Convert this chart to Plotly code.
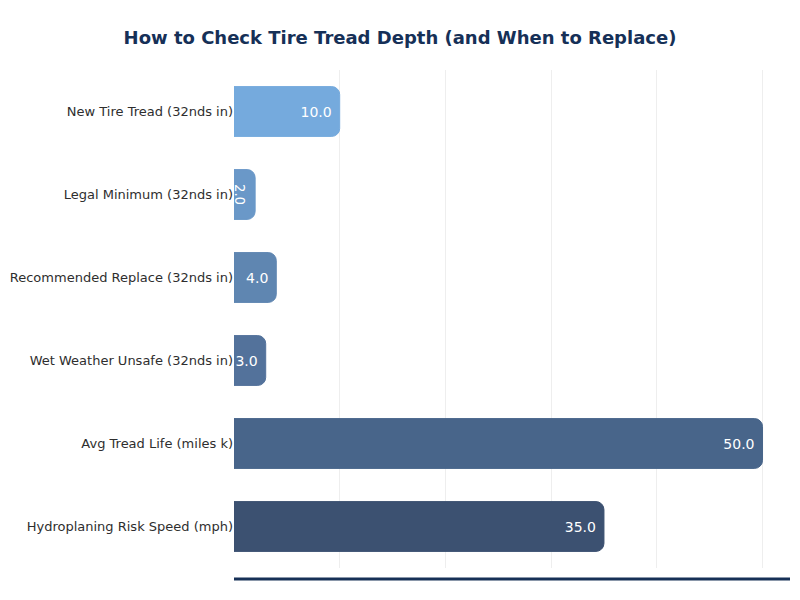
import plotly.graph_objects as go

# tread depth guide data, top to bottom
categories = [
    "New Tire Tread (32nds in)",
    "Legal Minimum (32nds in)",
    "Recommended Replace (32nds in)",
    "Wet Weather Unsafe (32nds in)",
    "Avg Tread Life (miles k)",
    "Hydroplaning Risk Speed (mph)",
]
values = [10.0, 2.0, 4.0, 3.0, 50.0, 35.0]
bar_colors = ["#75aadd", "#6a98c8", "#5f86b1", "#53729b", "#48658a", "#3c5171"]

fig = go.Figure()
fig.add_trace(go.Bar(
    y=categories,
    x=values,
    orientation="h",
    marker=dict(color=bar_colors, line=dict(color=bar_colors, width=1)),
    text=[f"{v:.1f}" for v in values],
    textposition="inside",
    insidetextanchor="end",
    textfont=dict(color="white", size=14, family="DejaVu Sans"),
    hoverinfo="skip",
))

fig.update_layout(
    width=800,
    height=600,
    title=dict(
        text="<b>How to Check Tire Tread Depth (and When to Replace)</b>",
        x=0.5,
        y=0.938,
        xanchor="center",
        yanchor="middle",
        font=dict(size=18, color="#163057", family="DejaVu Sans"),
    ),
    margin=dict(l=234, r=10, t=70, b=32),
    plot_bgcolor="white",
    paper_bgcolor="white",
    bargap=0.4,
    barcornerradius=8,
    showlegend=False,
    font=dict(family="DejaVu Sans", color="#333333"),
)

fig.update_xaxes(
    range=[0, 52.6],
    showticklabels=False,
    showgrid=True,
    gridcolor="#eeeeee",
    gridwidth=1,
    zeroline=False,
    showline=False,
    dtick=10,
)
fig.update_yaxes(
    autorange="reversed",
    tickfont=dict(size=13, color="#2e2e2e", family="DejaVu Sans"),
    showgrid=False,
    zeroline=False,
    ticks="",
)

# thick rule under the plot area
fig.add_shape(
    type="line", xref="paper", yref="paper",
    x0=0, x1=1, y0=-0.022, y1=-0.022,
    line=dict(color="#163057", width=3),
)

# drop the default page margin so the figure sits at the window corner
fig.write_html(
    "out.html",
    config={"displayModeBar": False},
    post_script="document.body.style.margin='0';",
)
